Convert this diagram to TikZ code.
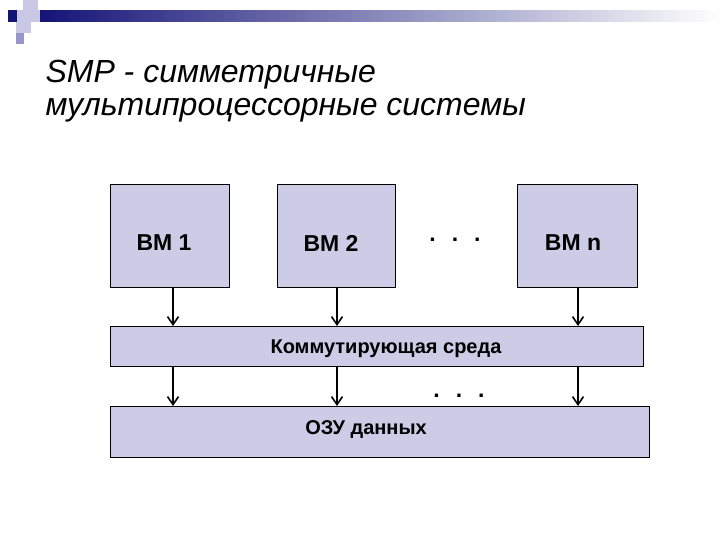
\documentclass[tikz,border=0pt]{standalone}
\usepackage{fontspec}
\usetikzlibrary{arrows.meta}
\setmainfont{Liberation Sans}
\definecolor{boxfill}{RGB}{204,204,230}
\definecolor{navy}{RGB}{20,20,120}
\definecolor{lightsq}{RGB}{200,200,228}
\definecolor{midsq}{RGB}{150,150,200}
\begin{document}
\begin{tikzpicture}[x=1pt,y=-1pt,
  box/.style={draw=black,line width=1pt,fill=boxfill},
  arr/.style={-{Straight Barb[length=8pt,width=11pt,line width=1.6pt]},line width=1.6pt},
  lbl/.style={font=\fontsize{23}{26}\selectfont\bfseries}]
\useasboundingbox (0,0) rectangle (720,540);
\fill[white] (0,0) rectangle (720,540);
% header decoration
\shade[left color=navy,right color=white] (40,11) rectangle (720,22);
\fill[lightsq] (23,0) rectangle (38,10);
\fill[lightsq] (16,10) rectangle (40,22);
\fill[navy] (8,10) rectangle (17,22);
\fill[lightsq] (16,22) rectangle (31,33);
\fill[midsq] (16,33) rectangle (24,44);
% title
\node[anchor=west,font=\fontsize{32}{36}\selectfont\itshape] (t1) at (42,75) {SMP - симметричные};
\node[anchor=west,font=\fontsize{32}{36}\selectfont\itshape] (t2) at (42,110) {мультипроцессорные системы};
% boxes
\draw[box] (110,185) rectangle (229,287);
\node[lbl] (b1) at (164,243) {ВМ 1};
\draw[box] (277,185) rectangle (395,287);
\node[lbl] (b2) at (331,243) {ВМ 2};
\draw[box] (517,185) rectangle (637,287);
\node[lbl] (bn) at (573,243) {ВМ n};
\node[lbl] (d1) at (455,240) {.\hspace{16pt}.\hspace{16pt}.};
\draw[box] (110,326) rectangle (643,366);
\node[font=\fontsize{20}{24}\selectfont\bfseries] (k) at (386,349) {Коммутирующая среда};
\node[lbl] (d2) at (459,396) {.\hspace{16pt}.\hspace{16pt}.};
\draw[box] (110,406) rectangle (649,457);
\node[font=\fontsize{20}{24}\selectfont\bfseries] (o) at (366,430) {ОЗУ данных};
% arrows
\coordinate (a1) at (173,287); \coordinate (a1e) at (173,326);
\coordinate (a2) at (337,287); \coordinate (a2e) at (337,326);
\coordinate (a3) at (578,287); \coordinate (a3e) at (578,326);
\coordinate (c1) at (173,366); \coordinate (c1e) at (173,406);
\coordinate (c2) at (337,366); \coordinate (c2e) at (337,406);
\coordinate (c3) at (578,366); \coordinate (c3e) at (578,406);
\foreach \s in {a1,a2,a3,c1,c2,c3} \draw[arr] (\s) -- (\s e);
\end{tikzpicture}
\end{document}
